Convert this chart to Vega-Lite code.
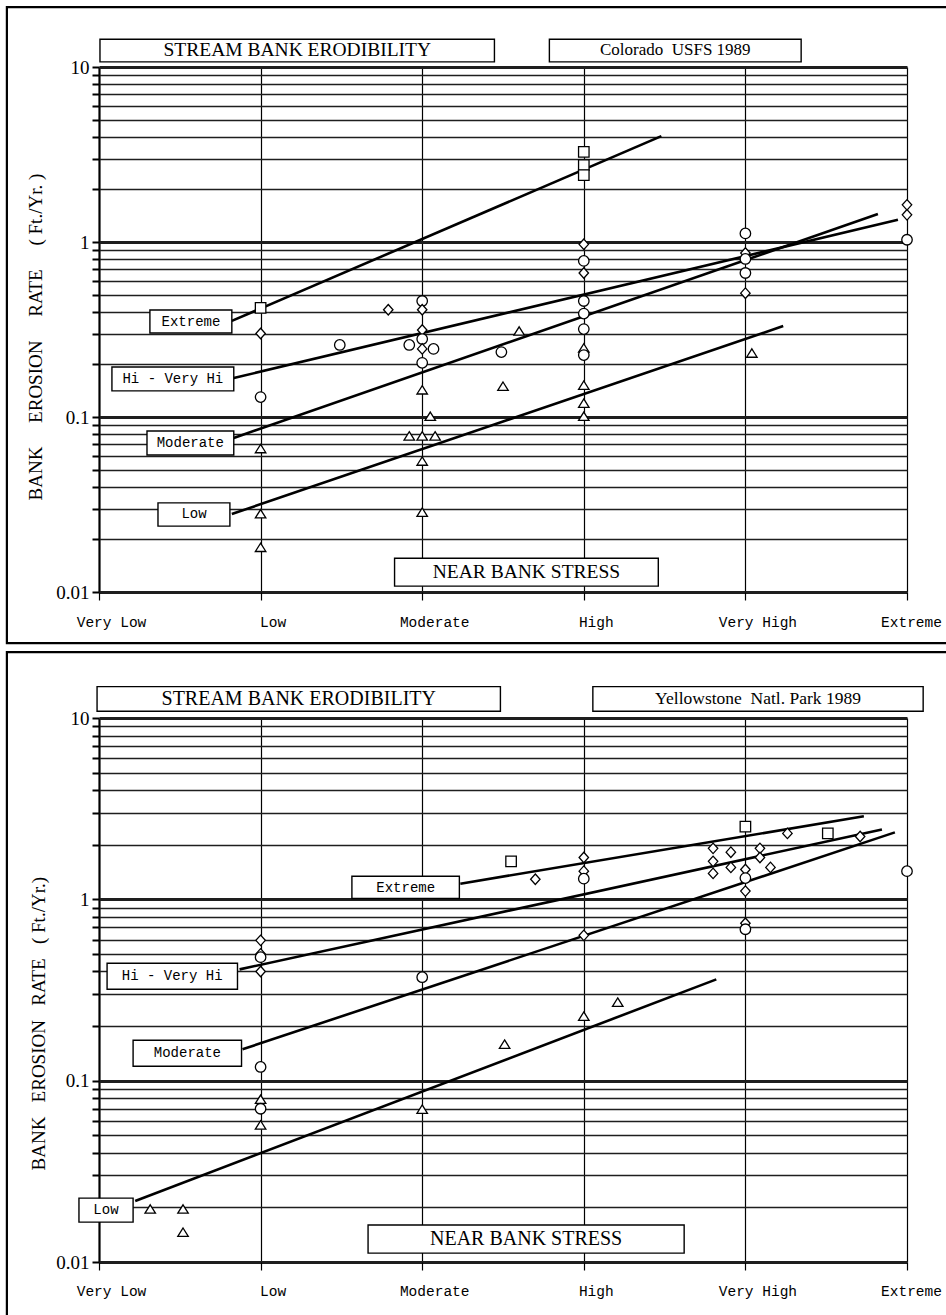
{
  "$schema": "https://vega.github.io/schema/vega-lite/v6.json",
  "background": "white",
  "padding": {"left": 5, "top": 5, "right": 0, "bottom": 0},
  "spacing": 5,
  "config": {
    "view": {"stroke": null},
    "axis": {"domain": false, "labelColor": "black", "tickColor": "black", "titleColor": "black"}
  },
  "datasets": {
    "frames": [
      {"p": "C", "x1": -0.57, "x2": 5.3, "y1": 22.0, "y2": 0.0051},
      {"p": "Y", "x1": -0.57, "x2": 5.3, "y1": 23.1, "y2": 0.00485}
    ],
    "lns": [
      {"p": "C", "ln": "Extreme", "x": 0.822, "y": 0.354}, {"p": "C", "ln": "Extreme", "x": 3.48, "y": 4.03},
      {"p": "C", "ln": "HiVH", "x": 0.834, "y": 0.167}, {"p": "C", "ln": "HiVH", "x": 4.944, "y": 1.34},
      {"p": "C", "ln": "Moderate", "x": 0.834, "y": 0.0759}, {"p": "C", "ln": "Moderate", "x": 4.82, "y": 1.445},
      {"p": "C", "ln": "Low", "x": 0.822, "y": 0.0279}, {"p": "C", "ln": "Low", "x": 4.234, "y": 0.331},
      {"p": "Y", "ln": "Extreme", "x": 2.236, "y": 1.22}, {"p": "Y", "ln": "Extreme", "x": 4.733, "y": 2.87},
      {"p": "Y", "ln": "HiVH", "x": 0.87, "y": 0.411}, {"p": "Y", "ln": "HiVH", "x": 4.845, "y": 2.43},
      {"p": "Y", "ln": "Moderate", "x": 0.888, "y": 0.149}, {"p": "Y", "ln": "Moderate", "x": 4.925, "y": 2.34},
      {"p": "Y", "ln": "Low", "x": 0.224, "y": 0.0217}, {"p": "Y", "ln": "Low", "x": 3.82, "y": 0.362}
    ],
    "pts": [
      {"p": "C", "x": 1, "y": 0.42, "m": "square"},
      {"p": "C", "x": 1, "y": 0.30, "m": "diamond"},
      {"p": "C", "x": 1, "y": 0.13, "m": "circle"},
      {"p": "C", "x": 1, "y": 0.066, "m": "triangle"},
      {"p": "C", "x": 1, "y": 0.028, "m": "triangle"},
      {"p": "C", "x": 1, "y": 0.018, "m": "triangle"},
      {"p": "C", "x": 1.49, "y": 0.258, "m": "circle"},
      {"p": "C", "x": 1.79, "y": 0.41, "m": "diamond"},
      {"p": "C", "x": 2, "y": 0.46, "m": "circle"},
      {"p": "C", "x": 2, "y": 0.41, "m": "diamond"},
      {"p": "C", "x": 2, "y": 0.314, "m": "diamond"},
      {"p": "C", "x": 2, "y": 0.279, "m": "circle"},
      {"p": "C", "x": 2, "y": 0.245, "m": "diamond"},
      {"p": "C", "x": 2, "y": 0.204, "m": "circle"},
      {"p": "C", "x": 2, "y": 0.143, "m": "triangle"},
      {"p": "C", "x": 2, "y": 0.078, "m": "triangle"},
      {"p": "C", "x": 2, "y": 0.056, "m": "triangle"},
      {"p": "C", "x": 2, "y": 0.0286, "m": "triangle"},
      {"p": "C", "x": 1.92, "y": 0.258, "m": "circle"},
      {"p": "C", "x": 1.92, "y": 0.078, "m": "triangle"},
      {"p": "C", "x": 2.07, "y": 0.245, "m": "circle"},
      {"p": "C", "x": 2.05, "y": 0.101, "m": "triangle"},
      {"p": "C", "x": 2.08, "y": 0.078, "m": "triangle"},
      {"p": "C", "x": 2.49, "y": 0.235, "m": "circle"},
      {"p": "C", "x": 2.5, "y": 0.15, "m": "triangle"},
      {"p": "C", "x": 2.6, "y": 0.31, "m": "triangle"},
      {"p": "C", "x": 3, "y": 3.27, "m": "square"},
      {"p": "C", "x": 3, "y": 2.75, "m": "square"},
      {"p": "C", "x": 3, "y": 2.41, "m": "square"},
      {"p": "C", "x": 3, "y": 0.97, "m": "diamond"},
      {"p": "C", "x": 3, "y": 0.78, "m": "circle"},
      {"p": "C", "x": 3, "y": 0.665, "m": "diamond"},
      {"p": "C", "x": 3, "y": 0.46, "m": "circle"},
      {"p": "C", "x": 3, "y": 0.39, "m": "circle"},
      {"p": "C", "x": 3, "y": 0.318, "m": "circle"},
      {"p": "C", "x": 3, "y": 0.248, "m": "triangle"},
      {"p": "C", "x": 3, "y": 0.226, "m": "circle"},
      {"p": "C", "x": 3, "y": 0.152, "m": "triangle"},
      {"p": "C", "x": 3, "y": 0.12, "m": "triangle"},
      {"p": "C", "x": 3, "y": 0.101, "m": "triangle"},
      {"p": "C", "x": 4, "y": 1.12, "m": "circle"},
      {"p": "C", "x": 4, "y": 0.865, "m": "diamond"},
      {"p": "C", "x": 4, "y": 0.8, "m": "circle"},
      {"p": "C", "x": 4, "y": 0.665, "m": "circle"},
      {"p": "C", "x": 4, "y": 0.51, "m": "diamond"},
      {"p": "C", "x": 4.04, "y": 0.232, "m": "triangle"},
      {"p": "C", "x": 5, "y": 1.63, "m": "diamond"},
      {"p": "C", "x": 5, "y": 1.43, "m": "diamond"},
      {"p": "C", "x": 5, "y": 1.03, "m": "circle"},
      {"p": "Y", "x": 0.317, "y": 0.0196, "m": "triangle"},
      {"p": "Y", "x": 0.52, "y": 0.0196, "m": "triangle"},
      {"p": "Y", "x": 0.52, "y": 0.0146, "m": "triangle"},
      {"p": "Y", "x": 1, "y": 0.594, "m": "diamond"},
      {"p": "Y", "x": 1, "y": 0.5, "m": "diamond"},
      {"p": "Y", "x": 1, "y": 0.48, "m": "circle"},
      {"p": "Y", "x": 1, "y": 0.40, "m": "diamond"},
      {"p": "Y", "x": 1, "y": 0.119, "m": "circle"},
      {"p": "Y", "x": 1, "y": 0.079, "m": "triangle"},
      {"p": "Y", "x": 1, "y": 0.070, "m": "circle"},
      {"p": "Y", "x": 1, "y": 0.057, "m": "triangle"},
      {"p": "Y", "x": 2, "y": 0.372, "m": "circle"},
      {"p": "Y", "x": 2, "y": 0.0697, "m": "triangle"},
      {"p": "Y", "x": 2.51, "y": 0.159, "m": "triangle"},
      {"p": "Y", "x": 2.55, "y": 1.62, "m": "square"},
      {"p": "Y", "x": 2.7, "y": 1.29, "m": "diamond"},
      {"p": "Y", "x": 3, "y": 1.70, "m": "diamond"},
      {"p": "Y", "x": 3, "y": 1.43, "m": "diamond"},
      {"p": "Y", "x": 3, "y": 1.30, "m": "circle"},
      {"p": "Y", "x": 3, "y": 0.633, "m": "diamond"},
      {"p": "Y", "x": 3, "y": 0.227, "m": "triangle"},
      {"p": "Y", "x": 3.21, "y": 0.271, "m": "triangle"},
      {"p": "Y", "x": 3.8, "y": 1.91, "m": "diamond"},
      {"p": "Y", "x": 3.8, "y": 1.62, "m": "diamond"},
      {"p": "Y", "x": 3.8, "y": 1.39, "m": "diamond"},
      {"p": "Y", "x": 3.91, "y": 1.82, "m": "diamond"},
      {"p": "Y", "x": 3.91, "y": 1.5, "m": "diamond"},
      {"p": "Y", "x": 4, "y": 2.52, "m": "square"},
      {"p": "Y", "x": 4, "y": 1.46, "m": "diamond"},
      {"p": "Y", "x": 4, "y": 1.31, "m": "circle"},
      {"p": "Y", "x": 4, "y": 1.11, "m": "diamond"},
      {"p": "Y", "x": 4, "y": 0.738, "m": "diamond"},
      {"p": "Y", "x": 4, "y": 0.684, "m": "circle"},
      {"p": "Y", "x": 4.09, "y": 1.91, "m": "diamond"},
      {"p": "Y", "x": 4.09, "y": 1.7, "m": "diamond"},
      {"p": "Y", "x": 4.155, "y": 1.5, "m": "diamond"},
      {"p": "Y", "x": 4.26, "y": 2.31, "m": "diamond"},
      {"p": "Y", "x": 4.51, "y": 2.31, "m": "square"},
      {"p": "Y", "x": 4.71, "y": 2.22, "m": "diamond"},
      {"p": "Y", "x": 5, "y": 1.43, "m": "circle"}
    ],
    "boxes": [
      {"p": "C", "t": "Extreme", "k": "mono", "x1": 0.315, "x2": 0.822, "y1": 0.409, "y2": 0.302, "xc": 0.569, "yc": 0.351},
      {"p": "C", "t": "Hi - Very Hi", "k": "mono", "x1": 0.08, "x2": 0.834, "y1": 0.193, "y2": 0.141, "xc": 0.457, "yc": 0.165},
      {"p": "C", "t": "Moderate", "k": "mono", "x1": 0.297, "x2": 0.834, "y1": 0.0832, "y2": 0.0607, "xc": 0.565, "yc": 0.071},
      {"p": "C", "t": "Low", "k": "mono", "x1": 0.365, "x2": 0.81, "y1": 0.0323, "y2": 0.0238, "xc": 0.588, "yc": 0.0279},
      {"p": "C", "t": "NEAR BANK STRESS", "k": "big", "x1": 1.829, "x2": 3.461, "y1": 0.0156, "y2": 0.0108, "xc": 2.645, "yc": 0.013},
      {"p": "C", "t": "STREAM BANK ERODIBILITY", "k": "big", "x1": 0.006, "x2": 2.447, "y1": 14.4, "y2": 10.7, "xc": 1.227, "yc": 12.5},
      {"p": "C", "t": "Colorado\u00a0\u00a0USFS 1989", "k": "small", "x1": 2.787, "x2": 4.345, "y1": 14.4, "y2": 10.7, "xc": 3.566, "yc": 12.5},
      {"p": "Y", "t": "Extreme", "k": "mono", "x1": 1.565, "x2": 2.23, "y1": 1.34, "y2": 1.01, "xc": 1.898, "yc": 1.16},
      {"p": "Y", "t": "Hi - Very Hi", "k": "mono", "x1": 0.05, "x2": 0.857, "y1": 0.444, "y2": 0.319, "xc": 0.453, "yc": 0.376},
      {"p": "Y", "t": "Moderate", "k": "mono", "x1": 0.211, "x2": 0.882, "y1": 0.167, "y2": 0.12, "xc": 0.547, "yc": 0.142},
      {"p": "Y", "t": "Low", "k": "mono", "x1": -0.124, "x2": 0.211, "y1": 0.0225, "y2": 0.0166, "xc": 0.043, "yc": 0.0194},
      {"p": "Y", "t": "NEAR BANK STRESS", "k": "big", "x1": 1.665, "x2": 3.621, "y1": 0.016, "y2": 0.0112, "xc": 2.643, "yc": 0.0134},
      {"p": "Y", "t": "STREAM BANK ERODIBILITY", "k": "big", "x1": -0.012, "x2": 2.484, "y1": 14.9, "y2": 10.9, "xc": 1.236, "yc": 12.8},
      {"p": "Y", "t": "Yellowstone\u00a0\u00a0Natl. Park 1989", "k": "small", "x1": 3.056, "x2": 5.1, "y1": 14.9, "y2": 10.9, "xc": 4.078, "yc": 12.8}
    ]
  },
  "vconcat": [
    {
      "width": 808,
      "height": 525,
      "layer": [
        {
          "data": {"name": "frames"},
          "transform": [{"filter": "datum.p == 'C'"}],
          "mark": {"type": "rect", "filled": false, "stroke": "black", "strokeWidth": 2.2},
          "encoding": {
            "x": {"field": "x1", "type": "quantitative", "scale": {"domain": [0, 5], "nice": false, "zero": false},
              "axis": {"values": [0, 1, 2, 3, 4, 5], "grid": true, "gridColor": "black",
                "gridWidth": {"condition": {"test": "datum.value == 0", "value": 2.2}, "value": 1.2},
                "tickSize": 8, "tickWidth": 1.2,
                "labelExpr": "['Very Low','Low','Moderate','High','Very High','Extreme'][datum.value]",
                "labelFont": "Liberation Mono", "labelFontSize": 14.5, "labelPadding": 15,
                "labelOffset": {"condition": {"test": "datum.value == 5", "value": 4}, "value": 12},
                "labelFlush": false, "labelOverlap": false, "labelBound": false, "title": null}},
            "x2": {"field": "x2"},
            "y": {"field": "y1", "type": "quantitative", "scale": {"type": "log", "domain": [0.01, 10], "nice": false, "zero": false},
              "axis": {"values": [0.01, 0.02, 0.03, 0.04, 0.05, 0.06, 0.07, 0.08, 0.09, 0.1, 0.2, 0.3, 0.4, 0.5, 0.6, 0.7, 0.8, 0.9, 1, 2, 3, 4, 5, 6, 7, 8, 9, 10],
                "grid": true, "gridColor": "#1e1e1e",
                "gridWidth": {"condition": {"test": "datum.value == 0.01 || datum.value == 0.1 || datum.value == 1 || datum.value == 10", "value": 3}, "value": 1.5},
                "tickSize": 7, "tickWidth": 2,
                "labelExpr": "datum.value == 10 ? '10' : datum.value == 1 ? '1' : datum.value == 0.1 ? '0.1' : datum.value == 0.01 ? '0.01' : ''",
                "labelFont": "Liberation Sans Narrow", "labelFontSize": 19, "labelPadding": 3, "labelOverlap": false, "labelBound": false,
                "title": "BANK\u00a0\u00a0\u00a0\u00a0\u00a0EROSION\u00a0\u00a0\u00a0\u00a0\u00a0RATE\u00a0\u00a0\u00a0\u00a0\u00a0(\u00a0Ft./Yr.\u00a0)\u00a0\u00a0\u00a0\u200b",
                "titleFont": "Liberation Serif", "titleFontSize": 19, "titleFontWeight": "normal", "titlePadding": 10}},
            "y2": {"field": "y2"}
          }
        },
        {
          "data": {"name": "lns"},
          "transform": [{"filter": "datum.p == 'C'"}],
          "mark": {"type": "line", "color": "black", "strokeWidth": 2.6},
          "encoding": {
            "x": {"field": "x", "type": "quantitative", "scale": {"domain": [0, 5], "nice": false, "zero": false}},
            "y": {"field": "y", "type": "quantitative", "scale": {"type": "log", "domain": [0.01, 10], "nice": false, "zero": false}},
            "detail": {"field": "ln", "type": "nominal"}
          }
        },
        {
          "data": {"name": "pts"},
          "transform": [{"filter": "datum.p == 'C'"}],
          "mark": {"type": "point", "filled": true, "fill": "white", "stroke": "black", "strokeWidth": 1.3, "size": 110, "opacity": 1},
          "encoding": {
            "x": {"field": "x", "type": "quantitative", "scale": {"domain": [0, 5], "nice": false, "zero": false}},
            "y": {"field": "y", "type": "quantitative", "scale": {"type": "log", "domain": [0.01, 10], "nice": false, "zero": false}},
            "shape": {"field": "m", "type": "nominal", "legend": null,
              "scale": {"domain": ["square", "diamond", "circle", "triangle"], "range": ["square", "M0,-1L0.9,0L0,1L-0.9,0Z", "circle", "M0,-0.8L1,0.8L-1,0.8Z"]}}
          }
        },
        {
          "data": {"name": "boxes"},
          "transform": [{"filter": "datum.p == 'C'"}],
          "mark": {"type": "rect", "fill": "white", "stroke": "black", "strokeWidth": 1.4},
          "encoding": {
            "x": {"field": "x1", "type": "quantitative", "scale": {"domain": [0, 5], "nice": false, "zero": false}},
            "x2": {"field": "x2"},
            "y": {"field": "y1", "type": "quantitative", "scale": {"type": "log", "domain": [0.01, 10], "nice": false, "zero": false}},
            "y2": {"field": "y2"}
          }
        },
        {
          "data": {"name": "boxes"},
          "transform": [{"filter": "datum.p == 'C' && datum.k == 'mono'"}],
          "mark": {"type": "text", "font": "Liberation Mono", "fontSize": 14, "color": "black", "align": "center", "baseline": "middle"},
          "encoding": {
            "x": {"field": "xc", "type": "quantitative", "scale": {"domain": [0, 5], "nice": false, "zero": false}},
            "y": {"field": "yc", "type": "quantitative", "scale": {"type": "log", "domain": [0.01, 10], "nice": false, "zero": false}},
            "text": {"field": "t"}
          }
        },
        {
          "data": {"name": "boxes"},
          "transform": [{"filter": "datum.p == 'C' && datum.k == 'big'"}],
          "mark": {"type": "text", "font": "Liberation Serif", "fontSize": 19.5, "color": "black", "align": "center", "baseline": "middle"},
          "encoding": {
            "x": {"field": "xc", "type": "quantitative", "scale": {"domain": [0, 5], "nice": false, "zero": false}},
            "y": {"field": "yc", "type": "quantitative", "scale": {"type": "log", "domain": [0.01, 10], "nice": false, "zero": false}},
            "text": {"field": "t"}
          }
        },
        {
          "data": {"name": "boxes"},
          "transform": [{"filter": "datum.p == 'C' && datum.k == 'small'"}],
          "mark": {"type": "text", "font": "Liberation Serif", "fontSize": 17, "color": "black", "align": "center", "baseline": "middle"},
          "encoding": {
            "x": {"field": "xc", "type": "quantitative", "scale": {"domain": [0, 5], "nice": false, "zero": false}},
            "y": {"field": "yc", "type": "quantitative", "scale": {"type": "log", "domain": [0.01, 10], "nice": false, "zero": false}},
            "text": {"field": "t"}
          }
        }
      ]
    },
    {
      "width": 808,
      "height": 544,
      "layer": [
        {
          "data": {"name": "frames"},
          "transform": [{"filter": "datum.p == 'Y'"}],
          "mark": {"type": "rect", "filled": false, "stroke": "black", "strokeWidth": 2.2},
          "encoding": {
            "x": {"field": "x1", "type": "quantitative", "scale": {"domain": [0, 5], "nice": false, "zero": false},
              "axis": {"values": [0, 1, 2, 3, 4, 5], "grid": true, "gridColor": "black",
                "gridWidth": {"condition": {"test": "datum.value == 0", "value": 2.2}, "value": 1.2},
                "tickSize": 8, "tickWidth": 1.2,
                "labelExpr": "['Very Low','Low','Moderate','High','Very High','Extreme'][datum.value]",
                "labelFont": "Liberation Mono", "labelFontSize": 14.5, "labelPadding": 14,
                "labelOffset": {"condition": {"test": "datum.value == 5", "value": 4}, "value": 12},
                "labelFlush": false, "labelOverlap": false, "labelBound": false, "title": null}},
            "x2": {"field": "x2"},
            "y": {"field": "y1", "type": "quantitative", "scale": {"type": "log", "domain": [0.01, 10], "nice": false, "zero": false},
              "axis": {"values": [0.01, 0.02, 0.03, 0.04, 0.05, 0.06, 0.07, 0.08, 0.09, 0.1, 0.2, 0.3, 0.4, 0.5, 0.6, 0.7, 0.8, 0.9, 1, 2, 3, 4, 5, 6, 7, 8, 9, 10],
                "grid": true, "gridColor": "#1e1e1e",
                "gridWidth": {"condition": {"test": "datum.value == 0.01 || datum.value == 0.1 || datum.value == 1 || datum.value == 10", "value": 3}, "value": 1.5},
                "tickSize": 7, "tickWidth": 2,
                "labelExpr": "datum.value == 10 ? '10' : datum.value == 1 ? '1' : datum.value == 0.1 ? '0.1' : datum.value == 0.01 ? '0.01' : ''",
                "labelFont": "Liberation Sans Narrow", "labelFontSize": 19, "labelPadding": 3, "labelOverlap": false, "labelBound": false,
                "title": "BANK\u00a0\u00a0\u00a0EROSION\u00a0\u00a0\u00a0RATE\u00a0\u00a0\u00a0(\u00a0Ft./Yr.)\u00a0\u00a0\u00a0\u00a0\u00a0\u00a0\u00a0\u00a0\u00a0\u00a0\u00a0\u00a0\u00a0\u00a0\u200b",
                "titleFont": "Liberation Serif", "titleFontSize": 19, "titleFontWeight": "normal", "titlePadding": 7}},
            "y2": {"field": "y2"}
          }
        },
        {
          "data": {"name": "lns"},
          "transform": [{"filter": "datum.p == 'Y'"}],
          "mark": {"type": "line", "color": "black", "strokeWidth": 2.6},
          "encoding": {
            "x": {"field": "x", "type": "quantitative", "scale": {"domain": [0, 5], "nice": false, "zero": false}},
            "y": {"field": "y", "type": "quantitative", "scale": {"type": "log", "domain": [0.01, 10], "nice": false, "zero": false}},
            "detail": {"field": "ln", "type": "nominal"}
          }
        },
        {
          "data": {"name": "pts"},
          "transform": [{"filter": "datum.p == 'Y'"}],
          "mark": {"type": "point", "filled": true, "fill": "white", "stroke": "black", "strokeWidth": 1.3, "size": 110, "opacity": 1},
          "encoding": {
            "x": {"field": "x", "type": "quantitative", "scale": {"domain": [0, 5], "nice": false, "zero": false}},
            "y": {"field": "y", "type": "quantitative", "scale": {"type": "log", "domain": [0.01, 10], "nice": false, "zero": false}},
            "shape": {"field": "m", "type": "nominal", "legend": null,
              "scale": {"domain": ["square", "diamond", "circle", "triangle"], "range": ["square", "M0,-1L0.9,0L0,1L-0.9,0Z", "circle", "M0,-0.8L1,0.8L-1,0.8Z"]}}
          }
        },
        {
          "data": {"name": "boxes"},
          "transform": [{"filter": "datum.p == 'Y'"}],
          "mark": {"type": "rect", "fill": "white", "stroke": "black", "strokeWidth": 1.4},
          "encoding": {
            "x": {"field": "x1", "type": "quantitative", "scale": {"domain": [0, 5], "nice": false, "zero": false}},
            "x2": {"field": "x2"},
            "y": {"field": "y1", "type": "quantitative", "scale": {"type": "log", "domain": [0.01, 10], "nice": false, "zero": false}},
            "y2": {"field": "y2"}
          }
        },
        {
          "data": {"name": "boxes"},
          "transform": [{"filter": "datum.p == 'Y' && datum.k == 'mono'"}],
          "mark": {"type": "text", "font": "Liberation Mono", "fontSize": 14, "color": "black", "align": "center", "baseline": "middle"},
          "encoding": {
            "x": {"field": "xc", "type": "quantitative", "scale": {"domain": [0, 5], "nice": false, "zero": false}},
            "y": {"field": "yc", "type": "quantitative", "scale": {"type": "log", "domain": [0.01, 10], "nice": false, "zero": false}},
            "text": {"field": "t"}
          }
        },
        {
          "data": {"name": "boxes"},
          "transform": [{"filter": "datum.p == 'Y' && datum.k == 'big'"}],
          "mark": {"type": "text", "font": "Liberation Serif", "fontSize": 20, "color": "black", "align": "center", "baseline": "middle"},
          "encoding": {
            "x": {"field": "xc", "type": "quantitative", "scale": {"domain": [0, 5], "nice": false, "zero": false}},
            "y": {"field": "yc", "type": "quantitative", "scale": {"type": "log", "domain": [0.01, 10], "nice": false, "zero": false}},
            "text": {"field": "t"}
          }
        },
        {
          "data": {"name": "boxes"},
          "transform": [{"filter": "datum.p == 'Y' && datum.k == 'small'"}],
          "mark": {"type": "text", "font": "Liberation Serif", "fontSize": 17.5, "color": "black", "align": "center", "baseline": "middle"},
          "encoding": {
            "x": {"field": "xc", "type": "quantitative", "scale": {"domain": [0, 5], "nice": false, "zero": false}},
            "y": {"field": "yc", "type": "quantitative", "scale": {"type": "log", "domain": [0.01, 10], "nice": false, "zero": false}},
            "text": {"field": "t"}
          }
        }
      ]
    }
  ]
}
